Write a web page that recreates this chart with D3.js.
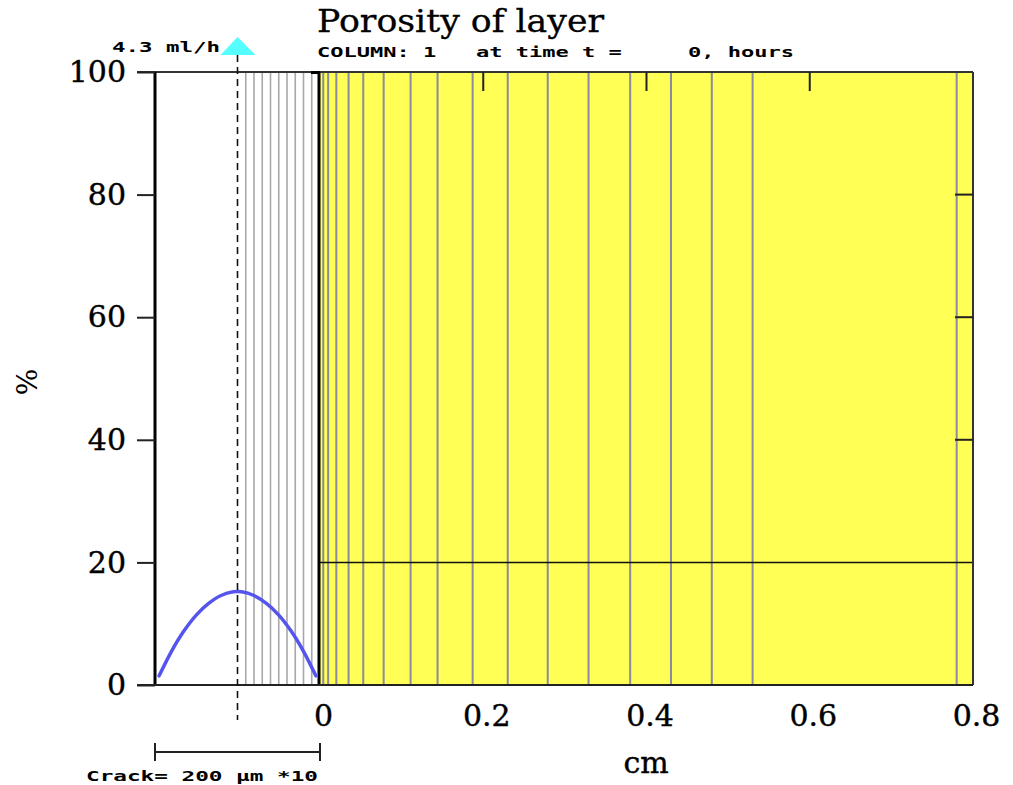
<!DOCTYPE html>
<html>
	<head>
		<meta charset="utf-8">
		<title>Porosity of layer</title>
		<script type="text/javascript" src="https://cdn.jsdelivr.net/npm/d3@7"></script>
		<style type="text/css">
			body{ margin: 0; background: #fff; }
			svg{ display: block; }
		</style>
	</head>
	<body>
		<svg id="canvas" width="1013" height="785"></svg>
	</body>
	<script type="text/javascript">

		// data
		const yTicks = [0, 20, 40, 60, 80, 100];
		const xTicks = [0, 0.2, 0.4, 0.6, 0.8];
		const innerTicksX = [0.2, 0.4, 0.6];
		const innerTicksY = [40, 60, 80];
		// cell boundaries in the layer (cm)
		const cellEdges = [0.004, 0.010, 0.020, 0.035, 0.053, 0.078, 0.111, 0.144, 0.187,
			0.230, 0.279, 0.329, 0.380, 0.430, 0.480, 0.530, 0.780];
		// grid inside the crack (µm from layer surface)
		const crackGrid = [-90, -80, -70, -60, -50, -40, -30, -20, -10];
		// porosity profile across the crack (µm, %)
		const crackPos = [-195, -180, -165, -150, -135, -120, -105, -95, -80, -65, -50, -35, -20, -5];
		const crackVal = [1.5, 5.5, 8.8, 11.4, 13.3, 14.6, 15.2, 15.2, 14.6, 13.3, 11.4, 8.8, 5.5, 1.5];
		const layerPorosity = 20;
		const layerDepth = [0, 0.8];
		const crackWidth = 200;
		const flowRate = "4.3 ml/h";

		const svg = d3.select("#canvas");

		let xScale = d3.scaleLinear().domain([0, 0.8]).range([320, 973]);
		let cScale = d3.scaleLinear().domain([-crackWidth, 0]).range([155, 320]);
		let yScale = d3.scaleLinear().domain([0, 100]).range([685, 72]);

		const yTop = yScale(100), yBottom = yScale(0);

		// yellow layer
		svg.append("rect")
			.attr("x", xScale(0))
			.attr("y", yTop)
			.attr("width", xScale(0.8) - xScale(0))
			.attr("height", yBottom - yTop)
			.attr("fill", "#ffff55");

		// cell lines
		svg.selectAll("line.cell")
			.data(cellEdges)
			.enter()
			.append("line")
			.attr("class", "cell")
			.attr("x1", function(d){ return xScale(d); })
			.attr("x2", function(d){ return xScale(d); })
			.attr("y1", yTop)
			.attr("y2", yBottom)
			.attr("stroke", "#8a8aa0")
			.attr("stroke-width", 2);

		// crack grid
		svg.selectAll("line.cgrid")
			.data(crackGrid)
			.enter()
			.append("line")
			.attr("class", "cgrid")
			.attr("x1", function(d){ return cScale(d); })
			.attr("x2", function(d){ return cScale(d); })
			.attr("y1", yTop)
			.attr("y2", yBottom)
			.attr("stroke", "#a8a8a8")
			.attr("stroke-width", 1.6);

		// 20% line
		svg.append("line")
			.attr("x1", xScale(layerDepth[0]))
			.attr("x2", xScale(layerDepth[1]))
			.attr("y1", yScale(layerPorosity))
			.attr("y2", yScale(layerPorosity))
			.attr("stroke", "#111")
			.attr("stroke-width", 1.5);

		// frame
		svg.append("line").attr("x1", 137).attr("x2", xScale(0.8)).attr("y1", yTop).attr("y2", yTop)
			.attr("stroke", "#333").attr("stroke-width", 2);
		svg.append("line").attr("x1", xScale(0.8)).attr("x2", xScale(0.8)).attr("y1", yTop).attr("y2", yBottom)
			.attr("stroke", "#333").attr("stroke-width", 2);
		svg.append("line").attr("x1", 155).attr("x2", 155).attr("y1", yTop).attr("y2", yBottom)
			.attr("stroke", "#000").attr("stroke-width", 3);
		svg.append("line").attr("x1", 319).attr("x2", 319).attr("y1", yTop).attr("y2", yBottom)
			.attr("stroke", "#000").attr("stroke-width", 3);
		svg.append("line").attr("x1", 311).attr("x2", 320).attr("y1", yTop + 0.5).attr("y2", yTop + 0.5)
			.attr("stroke", "#000").attr("stroke-width", 3);

		// y axis
		let yAxis = d3.axisLeft(yScale).tickValues(yTicks).tickSize(18).tickPadding(11)
			.tickFormat(d3.format("d"));
		let gy = svg.append("g").attr("transform", "translate(155,0)").call(yAxis);
		gy.select(".domain").remove();
		gy.selectAll("line").attr("stroke", "#222").attr("stroke-width", 2);
		gy.selectAll("text").attr("font-family", "DejaVu Serif").attr("font-size", "30px").attr("fill", "#000")
			.attr("stroke", "#000").attr("stroke-width", 0.4);

		// x axis
		let xAxis = d3.axisBottom(xScale).tickValues(xTicks).tickSize(0).tickPadding(20)
			.tickFormat(function(d){ return d === 0 ? "0" : d3.format(".1f")(d); });
		let gx = svg.append("g").attr("transform", "translate(0," + yBottom + ")").call(xAxis);
		gx.select(".domain").remove();
		gx.selectAll("text").attr("font-family", "DejaVu Serif").attr("font-size", "30px").attr("fill", "#000")
			.attr("stroke", "#000").attr("stroke-width", 0.4)
			.attr("dx", 3);
		svg.append("line").attr("x1", 137).attr("x2", xScale(0.8)).attr("y1", yBottom).attr("y2", yBottom)
			.attr("stroke", "#222").attr("stroke-width", 2);

		// inner ticks
		svg.selectAll("line.tx")
			.data(innerTicksX)
			.enter()
			.append("line")
			.attr("class", "tx")
			.attr("x1", function(d){ return xScale(d); })
			.attr("x2", function(d){ return xScale(d); })
			.attr("y1", yTop)
			.attr("y2", yTop + 19)
			.attr("stroke", "#222")
			.attr("stroke-width", 2);
		svg.selectAll("line.ty")
			.data(innerTicksY)
			.enter()
			.append("line")
			.attr("class", "ty")
			.attr("x1", xScale(0.8) - 18)
			.attr("x2", xScale(0.8))
			.attr("y1", function(d){ return yScale(d); })
			.attr("y2", function(d){ return yScale(d); })
			.attr("stroke", "#222")
			.attr("stroke-width", 2);

		// porosity in the crack
		let line = d3.line()
			.x(function(d, i){ return cScale(d); })
			.y(function(d, i){ return yScale(crackVal[i]); })
			.curve(d3.curveCatmullRom);
		svg.append("path")
			.attr("d", line(crackPos))
			.attr("fill", "none")
			.attr("stroke", "#5555ee")
			.attr("stroke-width", 3.5)
			.attr("stroke-linecap", "round");

		// crack centre + flow
		const mid = cScale(-crackWidth / 2);
		svg.append("line")
			.attr("x1", mid).attr("x2", mid)
			.attr("y1", 55).attr("y2", 720)
			.attr("stroke", "#111")
			.attr("stroke-width", 1.6)
			.attr("stroke-dasharray", "7,5");
		svg.append("path")
			.attr("d", "M" + (mid - 17) + ",55L" + mid + ",37L" + (mid + 18) + ",55Z")
			.attr("fill", "#55ffff");

		// texts
		function mono(txt, x, y, w){
			return svg.append("text")
				.text(txt)
				.attr("x", x)
				.attr("y", y)
				.attr("font-family", "DejaVu Sans Mono")
				.attr("font-weight", "bold")
				.attr("font-size", "14px")
				.attr("textLength", w)
				.attr("lengthAdjust", "spacingAndGlyphs")
				.attr("fill", "#000");
		}
		mono(flowRate, 112, 52, 108);
		mono("COLUMN: 1\u00a0\u00a0\u00a0at time t =\u00a0\u00a0\u00a0\u00a0\u00a00, hours", 317, 57, 477);
		mono("Crack= " + crackWidth + " \u00b5m *10", 86, 781, 232);

		svg.append("text")
			.text("Porosity of layer")
			.attr("x", 317)
			.attr("y", 32)
			.attr("font-family", "DejaVu Serif")
			.attr("font-size", "31px")
			.attr("textLength", 287)
			.attr("lengthAdjust", "spacingAndGlyphs")
			.attr("fill", "#000")
			.attr("stroke", "#000")
			.attr("stroke-width", 0.3);

		svg.append("text")
			.text("cm")
			.attr("x", 646)
			.attr("y", 773)
			.attr("text-anchor", "middle")
			.attr("font-family", "DejaVu Serif")
			.attr("font-size", "30px")
			.attr("fill", "#000")
			.attr("stroke", "#000")
			.attr("stroke-width", 0.4);

		svg.append("text")
			.text("%")
			.attr("transform", "translate(37,382) rotate(-90)")
			.attr("text-anchor", "middle")
			.attr("font-family", "DejaVu Serif")
			.attr("font-size", "28px")
			.attr("fill", "#000");

		// crack scale bar
		svg.append("line").attr("x1", cScale(-crackWidth)).attr("x2", cScale(0)).attr("y1", 752).attr("y2", 752)
			.attr("stroke", "#222").attr("stroke-width", 2);
		svg.selectAll("line.bar")
			.data([-crackWidth, 0])
			.enter()
			.append("line")
			.attr("class", "bar")
			.attr("x1", function(d){ return cScale(d); })
			.attr("x2", function(d){ return cScale(d); })
			.attr("y1", 743)
			.attr("y2", 761)
			.attr("stroke", "#222")
			.attr("stroke-width", 2);

	</script>
</html>
